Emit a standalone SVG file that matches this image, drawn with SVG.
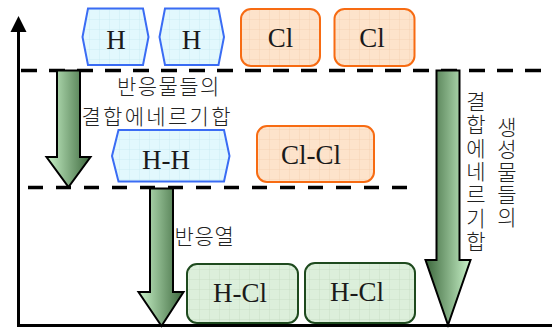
<svg xmlns="http://www.w3.org/2000/svg" width="552" height="328" viewBox="0 0 552 328">
<style>
.lat{font-family:"Liberation Serif","Times New Roman",serif;font-size:27px;fill:#1a1a1a;text-anchor:middle}
.kr{font-family:"Noto Sans CJK KR","Noto Sans",sans-serif;font-size:21px;font-weight:300;fill:#222}
.krv{font-family:"Noto Sans CJK KR","Noto Sans",sans-serif;font-size:21px;font-weight:300;fill:#222;text-anchor:middle}
.hx{fill:url(#gBlue);stroke:#3a6cf4;stroke-width:2}
.cl{fill:url(#gOrange);stroke:#f76b12;stroke-width:2}
.hc{fill:url(#gGreen);stroke:#1e4a1e;stroke-width:2}
.arr{stroke:#000;stroke-width:2;stroke-linejoin:miter}
.dash{stroke:#000;stroke-width:3.5;fill:none}
</style>
<defs>
<pattern id="gBlue" width="10" height="10" patternUnits="userSpaceOnUse">
<rect width="10" height="10" fill="#e2f8fd"/>
<path d="M10 0V10M0 10H10" stroke="#c8e8f0" stroke-width="0.8" fill="none"/>
</pattern>
<pattern id="gOrange" width="10" height="10" patternUnits="userSpaceOnUse">
<rect width="10" height="10" fill="#fde3cb"/>
<path d="M10 0V10M0 10H10" stroke="#f3cfad" stroke-width="0.8" fill="none"/>
</pattern>
<pattern id="gGreen" width="10" height="10" patternUnits="userSpaceOnUse">
<rect width="10" height="10" fill="#dcefdb"/>
<path d="M10 0V10M0 10H10" stroke="#c4dcc3" stroke-width="0.8" fill="none"/>
</pattern>
<linearGradient id="lgLD" x1="0" y1="0" x2="1" y2="0">
<stop offset="0" stop-color="#c9f3c9"/>
<stop offset="1" stop-color="#3c673c"/>
</linearGradient>
<linearGradient id="lgDL" x1="0" y1="0" x2="1" y2="0">
<stop offset="0" stop-color="#3c673c"/>
<stop offset="1" stop-color="#c9f3c9"/>
</linearGradient>
</defs>
<rect width="552" height="328" fill="#fff"/>

<g id="axes">
<line x1="18.5" y1="30" x2="18.5" y2="326" stroke="#000" stroke-width="3"/>
<polygon points="18.5,16 10.5,32 26.5,32" fill="#000"/>
<line x1="17" y1="325.5" x2="552" y2="325.5" stroke="#000" stroke-width="3"/>
</g>

<g id="levels">
<line class="dash" x1="21" y1="70.5" x2="552" y2="70.5" stroke-dasharray="16 12"/>
<line class="dash" x1="28" y1="187.5" x2="408" y2="187.5" stroke-dasharray="15 13"/>
</g>

<g id="connectors">
<path class="arr" fill="url(#lgLD)" d="M57,70.5 H80 V157 H90.5 L68.5,187 L46.5,157 H57 Z"/>
<path class="arr" fill="url(#lgLD)" d="M150,188.5 H173 V292 H183.5 L161.5,326 L138.5,292 H150 Z"/>
<path class="arr" fill="url(#lgDL)" d="M436.5,70.5 H459.5 V260 H470.5 L448,325 L425.5,260 H436.5 Z"/>
</g>

<g id="node-H1">
<polygon class="hx" points="88,8.5 143,8.5 148.5,37 143,65 88,65 82.5,37"/>
<text class="lat" x="116" y="48.5">H</text>
</g>
<g id="node-H2">
<polygon class="hx" points="165,8.5 218.5,8.5 224,37 218.5,65 165,65 159.5,37"/>
<text class="lat" x="191.5" y="48.5">H</text>
</g>
<g id="node-Cl1">
<rect class="cl" x="241" y="9" width="79" height="57" rx="10"/>
<text class="lat" x="280.5" y="47">Cl</text>
</g>
<g id="node-Cl2">
<rect class="cl" x="334.5" y="9" width="80" height="57" rx="10"/>
<text class="lat" x="372" y="47">Cl</text>
</g>
<g id="node-HH">
<polygon class="hx" points="118.5,130 224,130 229.5,156 224,181.5 118.5,181.5 112,156"/>
<text class="lat" x="166" y="168.5">H-H</text>
</g>
<g id="node-ClCl">
<rect class="cl" x="257" y="126" width="117" height="56" rx="10"/>
<text class="lat" x="311" y="163.5">Cl-Cl</text>
</g>
<g id="node-HCl1">
<rect class="hc" x="187" y="264" width="111" height="59" rx="10"/>
<text class="lat" x="240" y="301.5">H-Cl</text>
</g>
<g id="node-HCl2">
<rect class="hc" x="305" y="263" width="110" height="60" rx="10"/>
<text class="lat" x="357" y="300.5">H-Cl</text>
</g>

<g id="labels">
<text class="kr" x="117" y="94" letter-spacing="1.4">반응물들의</text>
<text class="kr" x="81.5" y="124" letter-spacing="2.3">결합에네르기합</text>
<text class="kr" x="174.5" y="244" letter-spacing="0.7">반응열</text>
<text class="krv" x="476 476 476 476 476 476 476" y="109 132.3 155.6 178.9 202.2 225.5 248.8">결합에네르기합</text>
<text class="krv" x="507 507 507 507 507" y="135 157.4 179.8 202.2 224.6">생성물들의</text>
</g>
</svg>
